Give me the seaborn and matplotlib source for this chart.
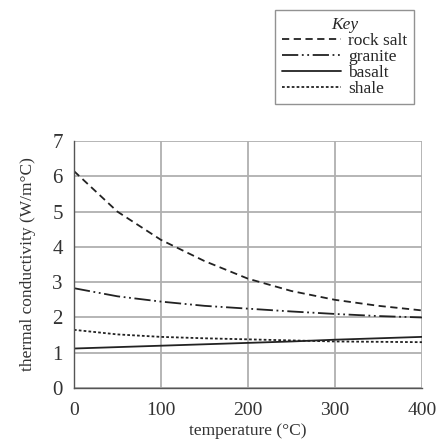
import pandas as pd
import numpy as np
import matplotlib.pyplot as plt
import seaborn as sns
from matplotlib.lines import Line2D

# values
temperature = [0, 50, 100, 150, 200, 250, 300, 350, 400]
rock_salt = [6.15, 5.0, 4.2, 3.6, 3.1, 2.75, 2.5, 2.33, 2.2]
granite = [2.83, 2.6, 2.45, 2.33, 2.25, 2.17, 2.1, 2.04, 2.0]
basalt = [1.12, 1.16, 1.2, 1.24, 1.28, 1.32, 1.37, 1.41, 1.45]
shale = [1.65, 1.52, 1.45, 1.41, 1.38, 1.35, 1.32, 1.31, 1.3]

rocks = ['rock salt', 'granite', 'basalt', 'shale']
series = [rock_salt, granite, basalt, shale]
line_styles = [
    (0, (4, 2.5)),
    (0, (9, 2, 1, 2, 1, 2)),
    '-',
    (0, (1.5, 1.2)),
]

sns.set_style('white')
plt.rcParams['font.family'] = ['Liberation Serif', 'DejaVu Serif']

fig = plt.figure(figsize=(4.4, 4.45), dpi=100)
ax = fig.add_axes([0.168, 0.128, 0.791, 0.555])

for name, vals, ls in zip(rocks, series, line_styles):
    sns.lineplot(x=temperature, y=vals, color='#222222', linewidth=1.3,
                 linestyle=ls, ax=ax)

ax.set_xlim(0, 400)
ax.set_ylim(0, 7)
ax.set_xticks([0, 100, 200, 300, 400])
ax.set_yticks(range(0, 8))
ax.grid(True, color='#b0b0b0', linewidth=1.3)
ax.set_axisbelow(True)
for s in ['top', 'right']:
    ax.spines[s].set_visible(False)
for s in ['left', 'bottom']:
    ax.spines[s].set_color('#555555')
    ax.spines[s].set_linewidth(1.0)
ax.tick_params(axis='both', direction='out', length=6, width=1.0, color='#555555',
               labelcolor='#333333')
ax.tick_params(axis='x', labelsize=14, pad=4)
ax.tick_params(axis='y', labelsize=15, pad=2)
ax.set_xlabel('temperature (°C)', fontsize=12.5, color='#333333', labelpad=3)
ax.set_ylabel('thermal conductivity (W/m°C)', fontsize=12.5, color='#333333', labelpad=12)

handles = [Line2D([0], [0], color='#222222', linewidth=1.3, linestyle=ls)
           for ls in line_styles]
leg = fig.legend(handles, rocks, loc='upper left', bbox_to_anchor=(0.625, 0.978),
                 title='Key', fontsize=12.5, title_fontsize=12.5, frameon=True,
                 fancybox=False, edgecolor='#777777', handlelength=3.4,
                 handletextpad=0.4, labelspacing=0.0, borderpad=0.4,
                 borderaxespad=0)
leg.get_title().set_fontstyle('italic')
leg.get_frame().set_linewidth(1.0)

fig.savefig('out.png', dpi=100)
